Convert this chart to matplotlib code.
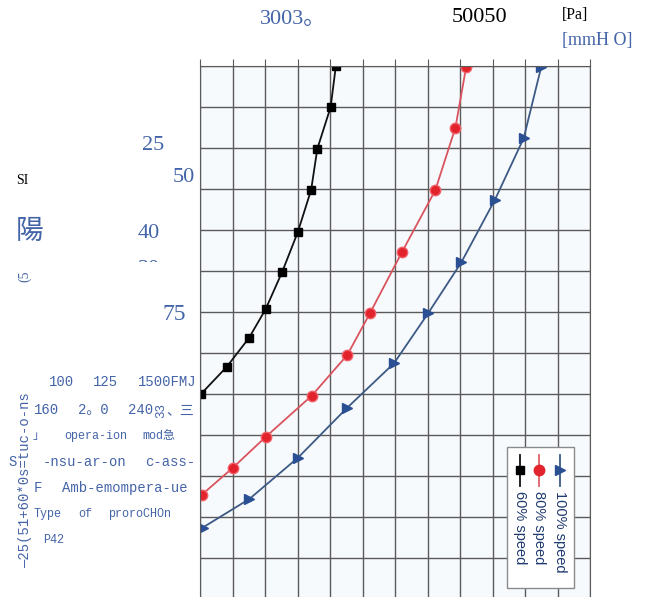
import matplotlib
matplotlib.use("Agg")
import matplotlib.pyplot as plt
import matplotlib.patches as patches
from matplotlib.lines import Line2D
from matplotlib.transforms import Bbox

W, H = 646, 597

# Kurven in Gittereinheiten (x: Spalten, y: Zeilen von unten)
speed_labels = ["60% speed", "80% speed", "100% speed"]

x_60 = [4.18, 4.02, 3.61, 3.42, 3.01, 2.53, 2.02, 1.51, 0.82, 0.03]
y_60 = [13.0, 12.0, 10.98, 9.98, 8.95, 7.98, 7.07, 6.37, 5.66, 5.0]

x_80 = [8.19, 7.86, 7.24, 6.22, 5.23, 4.53, 3.44, 2.03, 1.01, 0.05]
y_80 = [12.98, 11.5, 9.97, 8.47, 6.97, 5.95, 4.96, 3.96, 3.2, 2.54]

x_100 = [10.5, 9.96, 9.07, 8.04, 7.02, 5.97, 4.51, 3.02, 1.52, 0.08]
y_100 = [12.98, 11.24, 9.73, 8.21, 6.97, 5.75, 4.65, 3.45, 2.44, 1.74]

BLUE = "#4464a8"
SERIF = ["Liberation Serif", "Noto Sans CJK SC"]
MONO = ["Liberation Mono", "Noto Sans CJK SC"]

fig = plt.figure(figsize=(W / 100, H / 100), dpi=100)
fig.patch.set_facecolor("white")


def put(x, y, s, **kw):
    """Text an Pixelposition (von oben gemessen)"""
    kw.setdefault("va", "center")
    kw.setdefault("ha", "left")
    return fig.text(x / W, 1 - y / H, s, **kw)


# Diagrammbereich
ax = fig.add_axes([200 / W, (H - 599) / H, 390 / W, 533 / H])
ax.set_facecolor("#f7fafd")
ax.set_xlim(0, 12)
ax.set_ylim(0, 13)
ax.set_xticks(range(13))
ax.set_yticks(range(14))
ax.grid(True, color="#5a5a5a", linewidth=1.0)
ax.tick_params(top=True, bottom=False, left=False, right=False,
               labelbottom=False, labelleft=False, direction="out",
               length=5, color="#5a5a5a")
for side in ["top", "left", "right"]:
    ax.spines[side].set_color("#5a5a5a")
ax.spines["bottom"].set_visible(False)

ax.plot(x_60, y_60, color="#111111", lw=1.3, marker="s", ms=6,
        mfc="black", mec="black")
ax.plot(x_80, y_80, color="#d9545e", lw=1.3, marker="o", ms=7.5,
        mfc="#e3232c", mec="#f06068")
ax.plot(x_100, y_100, color="#3d5a85", lw=1.3, marker=">", ms=7.5,
        mfc="#2b4f93", mec="#2b4f93")

# Legende (gedreht, manuell gezeichnet)
leg_box = patches.Rectangle((507 / W, 1 - 588 / H), 67 / W, 141 / H,
                            transform=fig.transFigure, facecolor="white",
                            edgecolor="#8a8a8a", lw=1.0, zorder=5)
fig.add_artist(leg_box)
leg_style = [
    (520, "#111111", "s", "black", 6),
    (539, "#e06068", "o", "#e3232c", 7.5),
    (560, "#3d5a85", ">", "#2b4f93", 7.5),
]
for label, (lx, lc, mk, mc, ms) in zip(speed_labels, leg_style):
    fig.add_artist(Line2D([lx / W, lx / W], [1 - 455 / H, 1 - 486 / H],
                          transform=fig.transFigure, color=lc, lw=1.3,
                          zorder=6))
    fig.add_artist(Line2D([lx / W], [1 - 470 / H], transform=fig.transFigure,
                          marker=mk, ms=ms, mfc=mc, mec=mc, ls="none",
                          zorder=7))
    put(lx, 491, label, rotation=-90, ha="center", va="top", fontsize=10.5,
        color="#1f3a70", family=["Liberation Sans"], zorder=7)

# Beschriftungen oben
put(260, 20, "3003。", fontsize=16, color=BLUE, family=SERIF)
put(452, 17, "50050", fontsize=16, color="black", family=SERIF)
put(562, 15, "[Pa]", fontsize=11.5, color="black", family=SERIF)
put(562, 41, "[mmH O]", fontsize=13, color=BLUE, family=SERIF)

# Zahlen links
put(142, 145, "25", fontsize=16, color=BLUE, family=SERIF)
put(173, 177, "50", fontsize=16, color=BLUE, family=SERIF)
put(138, 234, "40", fontsize=16, color=BLUE, family=SERIF)
t30 = put(138, 270, "30", fontsize=16, color=BLUE, family=SERIF)
t30.set_clip_box(Bbox.from_extents(120, H - 262, 180, H - 240))
t30.set_clip_on(True)
put(162, 314, "75", fontsize=17, color=BLUE, family=SERIF)

put(16, 181, "SI", fontsize=10, color="black", family=SERIF)
put(16, 231, "陽", fontsize=20, color=BLUE, style="italic",
    family=["Noto Sans CJK JP"])
put(25, 276, "(5", fontsize=10, color=BLUE, family=SERIF, rotation=90,
    ha="center")

# Tabellenzeilen
rows = [
    (382, [(49, "100"), (93, "125"), (138, "1500FMJ")], 10),
    (410, [(34, "160"), (78, "2。0"), (128, "240"), (166, "、三")], 10),
    (436, [(33, "」"), (64, "opera-ion"), (142, "mod急")], 8.5),
    (462, [(8, "S"), (43, "-nsu-ar-on"), (145, "c-ass-")], 10),
    (488, [(34, "F"), (62, "Amb-emompera-ue")], 10),
    (514, [(34, "Type"), (78, "of"), (108, "proroCHOn")], 8.5),
    (540, [(43, "P42")], 8.5),
]
for ry, parts, fs in rows:
    for rx, s in parts:
        put(rx, ry, s, fontsize=fs, color=BLUE, family=MONO)
put(161, 410, "33", fontsize=9, color=BLUE, family=MONO, rotation=90,
    ha="center")

put(25, 480, "—25(51+60*0s=tuc-o-ns", fontsize=10, color=BLUE, family=MONO,
    rotation=90, ha="center")

fig.savefig("out.png", dpi=100, facecolor="white")
